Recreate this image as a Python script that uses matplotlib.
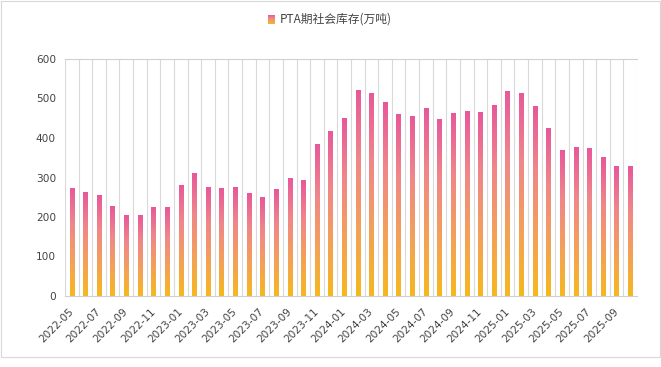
import matplotlib
matplotlib.use("Agg")
import matplotlib.pyplot as plt
import numpy as np
from matplotlib.colors import LinearSegmentedColormap
from matplotlib.patches import Rectangle

plt.rcParams["font.family"] = ["Noto Sans CJK SC", "DejaVu Sans"]

months = [f"{y}-{m:02d}" for y in range(2022, 2026) for m in range(1, 13)][4:46]
stock = [271, 261, 254, 226, 203, 203, 223, 223, 279, 310,
         274, 272, 274, 259, 249, 269, 297, 292, 383, 416,
         449, 520, 513, 490, 460, 454, 474, 447, 462, 467,
         465, 482, 517, 513, 479, 424, 368, 375, 373, 350,
         327, 327]
series_name = "PTA期社会库存(万吨)"
yticks = [0, 100, 200, 300, 400, 500, 600]

cmap = LinearSegmentedColormap.from_list(
    "grad", ["#f6b81e", "#f3a05a", "#f0868a", "#e8589a"])
grad = np.linspace(0, 1, 256).reshape(-1, 1)

fig = plt.figure(figsize=(6.61, 3.67), dpi=100)
ax = fig.add_axes([65 / 661, 1 - 296 / 367, 572 / 661, 237 / 367])

w = 0.32
for i, v in enumerate(stock):
    ax.imshow(grad, cmap=cmap, origin="lower", aspect="auto",
              extent=(i - w / 2, i + w / 2, 0, v), interpolation="bilinear")

ax.set_xlim(-0.5, len(stock) - 0.5)
ax.set_ylim(0, 600)
ax.set_yticks(yticks)
for b in np.arange(-0.5, len(stock), 1.0):
    ax.axvline(b, color="#d9d9d9", lw=0.8, zorder=0)
ax.set_xticks(range(0, len(stock), 2))
ax.set_xticklabels(months[::2], rotation=45, ha="right", va="center",
                   rotation_mode="anchor", family="DejaVu Sans")
for t in ax.get_yticklabels():
    t.set_family("DejaVu Sans")
ax.tick_params(length=0, labelsize=7.6, labelcolor="#444444")
ax.tick_params(axis="y", pad=6.5)
ax.tick_params(axis="x", pad=10)
for s in ["left", "right"]:
    ax.spines[s].set_visible(False)
for s in ["top", "bottom"]:
    ax.spines[s].set_color("#d0d0d0")
    ax.spines[s].set_linewidth(0.8)

# legend
lax = fig.add_axes([268 / 661, 1 - 24 / 367, 7 / 661, 9 / 367])
lax.imshow(grad, cmap=cmap, origin="lower", aspect="auto")
lax.axis("off")
fig.text(280 / 661, 1 - 19 / 367, series_name, fontsize=8.5,
         color="#444444", va="center", ha="left")

fig.patches.append(Rectangle((0.5 / 661, 1 - 357 / 367), 659.5 / 661, 356 / 367,
                             transform=fig.transFigure, fill=False,
                             edgecolor="#d8d8d8", lw=0.8))

fig.savefig("out.png", dpi=100)
